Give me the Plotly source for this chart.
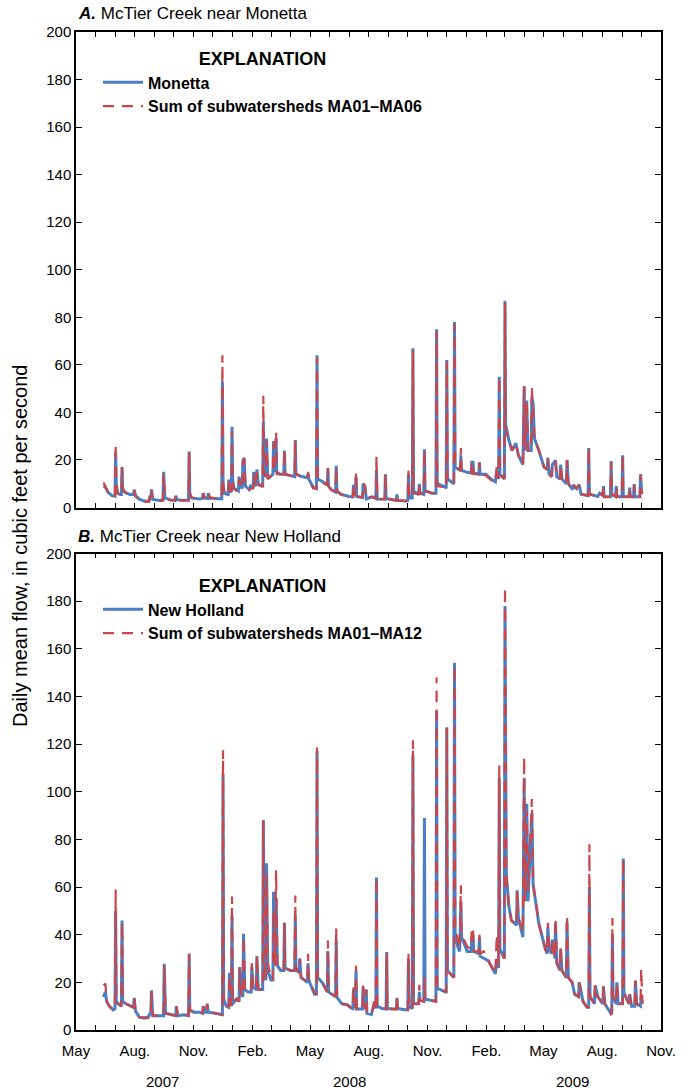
import plotly.graph_objects as go

# ---------------- data ----------------
# Panel A: McTier Creek near Monetta (daily mean flow, ft3/s) - one line per month
MON_DATES = [
    "2007-06-13", "2007-06-16", "2007-06-20", "2007-06-26",
    "2007-07-01", "2007-07-02", "2007-07-03", "2007-07-05", "2007-07-09", "2007-07-11", "2007-07-12", "2007-07-13", "2007-07-16", "2007-07-24", "2007-07-30", "2007-07-31",
    "2007-08-02", "2007-08-08", "2007-08-15", "2007-08-23", "2007-08-25", "2007-08-26", "2007-08-27", "2007-08-29",
    "2007-09-06", "2007-09-14", "2007-09-15", "2007-09-17", "2007-09-26",
    "2007-10-03", "2007-10-04", "2007-10-06", "2007-10-16", "2007-10-24", "2007-10-25", "2007-10-26", "2007-10-29",
    "2007-11-10", "2007-11-15", "2007-11-16", "2007-11-18", "2007-11-23", "2007-11-24", "2007-11-26",
    "2007-12-05", "2007-12-14", "2007-12-15", "2007-12-16", "2007-12-17", "2007-12-19", "2007-12-25", "2007-12-26", "2007-12-28", "2007-12-30", "2007-12-31",
    "2008-01-01", "2008-01-03", "2008-01-07", "2008-01-10", "2008-01-11", "2008-01-13", "2008-01-16", "2008-01-17", "2008-01-19", "2008-01-21", "2008-01-25", "2008-01-27", "2008-01-29",
    "2008-02-02", "2008-02-03", "2008-02-05", "2008-02-07", "2008-02-08", "2008-02-10", "2008-02-15", "2008-02-17", "2008-02-18", "2008-02-19", "2008-02-22", "2008-02-23", "2008-02-25",
    "2008-03-04", "2008-03-05", "2008-03-06", "2008-03-09", "2008-03-10", "2008-03-15", "2008-03-21", "2008-03-22", "2008-03-23", "2008-03-30",
    "2008-04-07", "2008-04-08", "2008-04-09", "2008-04-18", "2008-04-27", "2008-04-28", "2008-04-29",
    "2008-05-06", "2008-05-11", "2008-05-12", "2008-05-13", "2008-05-20", "2008-05-28", "2008-05-29", "2008-05-30",
    "2008-06-03", "2008-06-10", "2008-06-11", "2008-06-12", "2008-06-18",
    "2008-07-01", "2008-07-07", "2008-07-08", "2008-07-09", "2008-07-11", "2008-07-12", "2008-07-13", "2008-07-22", "2008-07-23", "2008-07-26", "2008-07-28",
    "2008-08-06", "2008-08-12", "2008-08-13", "2008-08-14", "2008-08-26", "2008-08-27", "2008-08-28",
    "2008-09-13", "2008-09-14", "2008-09-15", "2008-09-28",
    "2008-10-01", "2008-10-02", "2008-10-03", "2008-10-08", "2008-10-09", "2008-10-10", "2008-10-18", "2008-10-19", "2008-10-20", "2008-10-26", "2008-10-27", "2008-10-28",
    "2008-11-08", "2008-11-14", "2008-11-15", "2008-11-16", "2008-11-29", "2008-11-30",
    "2008-12-01", "2008-12-02", "2008-12-12", "2008-12-13", "2008-12-14", "2008-12-20", "2008-12-22", "2008-12-23", "2008-12-24",
    "2009-01-02", "2009-01-08", "2009-01-09", "2009-01-11", "2009-01-12", "2009-01-20", "2009-01-21", "2009-01-22", "2009-01-31",
    "2009-02-08", "2009-02-15", "2009-02-17", "2009-02-20", "2009-02-21", "2009-02-22",
    "2009-03-01", "2009-03-02", "2009-03-03", "2009-03-08", "2009-03-13", "2009-03-19", "2009-03-23", "2009-03-30",
    "2009-04-01", "2009-04-02", "2009-04-05", "2009-04-07", "2009-04-12", "2009-04-13", "2009-04-15", "2009-04-17", "2009-04-24",
    "2009-05-02", "2009-05-07", "2009-05-08", "2009-05-10", "2009-05-14", "2009-05-15", "2009-05-20", "2009-05-22", "2009-05-27", "2009-05-28", "2009-05-30",
    "2009-06-06", "2009-06-07", "2009-06-09", "2009-06-16", "2009-06-17", "2009-06-22", "2009-06-26", "2009-06-29",
    "2009-07-10", "2009-07-11", "2009-07-12", "2009-07-25", "2009-07-28",
    "2009-08-02", "2009-08-03", "2009-08-04", "2009-08-14", "2009-08-15", "2009-08-16", "2009-08-22", "2009-08-23", "2009-08-24",
    "2009-09-01", "2009-09-02", "2009-09-03", "2009-09-12", "2009-09-13", "2009-09-14", "2009-09-19", "2009-09-20", "2009-09-21", "2009-09-29", "2009-09-30",
    "2009-10-02",
]
MON_OBSERVED = [
    9, 8.5, 6.5, 5,
    4.8, 23, 10, 6, 5.5, 5.5, 17, 8, 6.5, 5.5, 5.5, 7.5,
    5, 3.5, 2.7, 2.6, 5, 3.5, 7.6, 3.5,
    3, 3, 15, 4, 3.2,
    3, 5, 3.3, 3, 3, 23.5, 6, 4,
    3.6, 3.8, 6, 4, 3.8, 6, 4,
    3.8, 3.5, 3.6, 53, 10, 6, 5.5, 11.8, 7, 6.5, 34,
    12, 8, 7.5, 7, 13, 9, 8, 19, 21, 9, 8, 7.5, 9,
    8, 15, 10, 9, 16, 10, 9, 9, 36, 14, 13, 29, 12,
    14, 28, 15, 29, 15, 14, 14, 24, 14, 13.5,
    13, 28.4, 14, 13, 12.5, 14, 12,
    8.5, 8, 64, 12, 11, 9.5, 16.5, 9,
    7.5, 6.5, 17.5, 7, 5.6,
    4.6, 4.5, 9.5, 6, 5, 13, 4.6, 4.2, 10, 9, 3.6,
    4.5, 3.8, 16, 3.6, 3.5, 14, 3.8,
    3, 5.5, 3, 2.7,
    3, 14, 4, 4, 67, 7, 5.5, 10, 6, 5.5, 24.5, 7,
    6, 6, 75, 10, 8.5, 8,
    62, 12, 10, 78, 17, 16, 15.5, 22, 15.6,
    14.8, 14.5, 19, 19, 14.5, 14, 19, 14, 14,
    12, 10.8, 15, 12, 55, 14,
    12, 87, 35, 28.4, 24, 27, 22, 18,
    51, 24, 45, 24, 24, 46, 44, 29, 24,
    17, 16, 20.7, 14, 13, 18, 19.8, 13, 12, 18, 12,
    10, 20, 10, 7.5, 9.5, 8, 9.5, 5.6,
    5, 25, 5.6, 4.6, 6,
    5, 9, 4.5, 4.5, 19.5, 5.5, 4.6, 9, 4.6,
    4.5, 22, 4.6, 4.5, 8.4, 4.6, 4.5, 9.8, 4.6, 4.5, 14,
    5.6,
]
MON_SUM = [
    10.5, 9, 6.5, 5,
    4.6, 27, 11, 6, 5.5, 5.5, 17, 8, 6.5, 5.3, 5.3, 7,
    5, 3.2, 2.5, 2.5, 5, 3.5, 7, 3.5,
    2.8, 3, 14, 4, 3,
    3, 5, 3, 3, 3, 23, 5.5, 4,
    4, 3.8, 6, 4, 3.8, 6, 4.3,
    3.8, 3.5, 3.6, 64, 11, 6, 5.5, 11, 7, 6.5, 32,
    11, 8, 7, 7, 12, 8.5, 8, 20, 20, 9, 7.5, 7.5, 8,
    8, 14, 10, 9, 15, 9.5, 9, 9, 47, 14, 13, 28, 12,
    14, 27, 15, 32, 14, 14, 14, 24.5, 14, 13.5,
    13, 28, 14, 13, 12.5, 15, 12,
    8, 8, 63, 12, 10.5, 9.5, 16.6, 9,
    7.5, 6.5, 17, 7, 5.5,
    4.5, 4.5, 10, 6, 5, 15, 4.6, 4.2, 10, 9, 3.6,
    4.5, 3.8, 21.7, 3.6, 3.5, 14, 3.8,
    3, 5.5, 3, 2.7,
    3, 15.5, 4, 4, 66, 6, 5.5, 10, 6, 5.5, 24, 7,
    6, 6, 74, 9, 8.5, 8,
    61, 12, 10, 77, 17, 16, 15.5, 25, 15.6,
    14.8, 14.5, 19, 18.5, 14, 14, 19, 14, 13.5,
    11.5, 10.5, 17.8, 12, 55, 14,
    12, 86, 33, 28, 24, 27, 22, 18,
    51, 24, 44, 24, 24, 50.5, 42, 29, 24,
    17, 16, 21, 14, 13, 18, 19.5, 13, 12, 18, 12,
    10, 20, 10, 7.5, 9.5, 8, 9.5, 5.6,
    5, 25, 5.6, 4.6, 6,
    5, 9, 4.5, 4.5, 19, 5.5, 4.6, 9, 4.6,
    4.5, 22, 4.6, 4.5, 8.4, 4.6, 4.5, 9.8, 4.6, 4.5, 13.7,
    5.6,
]

# Panel B: McTier Creek near New Holland - one line per month
NH_DATES = [
    "2007-06-13", "2007-06-16", "2007-06-18", "2007-06-22", "2007-06-28",
    "2007-07-01", "2007-07-02", "2007-07-03", "2007-07-06", "2007-07-11", "2007-07-12", "2007-07-13", "2007-07-18", "2007-07-25", "2007-07-30", "2007-07-31",
    "2007-08-02", "2007-08-08", "2007-08-16", "2007-08-22", "2007-08-25", "2007-08-26", "2007-08-27", "2007-08-29",
    "2007-09-07", "2007-09-15", "2007-09-16", "2007-09-18", "2007-09-28",
    "2007-10-04", "2007-10-05", "2007-10-07", "2007-10-17", "2007-10-24", "2007-10-25", "2007-10-26",
    "2007-11-01", "2007-11-10", "2007-11-15", "2007-11-16", "2007-11-18", "2007-11-21", "2007-11-22", "2007-11-24",
    "2007-12-05", "2007-12-14", "2007-12-16", "2007-12-17", "2007-12-18", "2007-12-22", "2007-12-26", "2007-12-27", "2007-12-29", "2007-12-30", "2007-12-31",
    "2008-01-01", "2008-01-07", "2008-01-11", "2008-01-12", "2008-01-14", "2008-01-17", "2008-01-18", "2008-01-20", "2008-01-25", "2008-01-30", "2008-01-31",
    "2008-02-02", "2008-02-07", "2008-02-08", "2008-02-10", "2008-02-15", "2008-02-17", "2008-02-18", "2008-02-20", "2008-02-22", "2008-02-23", "2008-02-25",
    "2008-03-01", "2008-03-04", "2008-03-05", "2008-03-07", "2008-03-09", "2008-03-11", "2008-03-16", "2008-03-21", "2008-03-22", "2008-03-23", "2008-03-31",
    "2008-04-07", "2008-04-08", "2008-04-09", "2008-04-14", "2008-04-15", "2008-04-17", "2008-04-27", "2008-04-28", "2008-04-29",
    "2008-05-08", "2008-05-11", "2008-05-12", "2008-05-13", "2008-05-20", "2008-05-28", "2008-05-29", "2008-05-30",
    "2008-06-10", "2008-06-11", "2008-06-12", "2008-06-20", "2008-06-28",
    "2008-07-05", "2008-07-07", "2008-07-08", "2008-07-09", "2008-07-11", "2008-07-12", "2008-07-13", "2008-07-22", "2008-07-23", "2008-07-24", "2008-07-27", "2008-07-28", "2008-07-29",
    "2008-08-05", "2008-08-10", "2008-08-12", "2008-08-13", "2008-08-14", "2008-08-22", "2008-08-28", "2008-08-29", "2008-08-30",
    "2008-09-08", "2008-09-13", "2008-09-14", "2008-09-15", "2008-09-26",
    "2008-10-01", "2008-10-02", "2008-10-03", "2008-10-08", "2008-10-09", "2008-10-10", "2008-10-18", "2008-10-19", "2008-10-20", "2008-10-26", "2008-10-27", "2008-10-28",
    "2008-11-08", "2008-11-14", "2008-11-15", "2008-11-16", "2008-11-29", "2008-11-30",
    "2008-12-01", "2008-12-02", "2008-12-12", "2008-12-13", "2008-12-14", "2008-12-18", "2008-12-21", "2008-12-23", "2008-12-24",
    "2009-01-02", "2009-01-08", "2009-01-09", "2009-01-11", "2009-01-12", "2009-01-20", "2009-01-21", "2009-01-22", "2009-01-28",
    "2009-02-04", "2009-02-10", "2009-02-15", "2009-02-17", "2009-02-20", "2009-02-21", "2009-02-22",
    "2009-03-01", "2009-03-02", "2009-03-04", "2009-03-08", "2009-03-12", "2009-03-20", "2009-03-21", "2009-03-23", "2009-03-30",
    "2009-04-01", "2009-04-02", "2009-04-05", "2009-04-07", "2009-04-13", "2009-04-15", "2009-04-19", "2009-04-24",
    "2009-05-04", "2009-05-07", "2009-05-08", "2009-05-10", "2009-05-14", "2009-05-15", "2009-05-19", "2009-05-20", "2009-05-22", "2009-05-27", "2009-05-28", "2009-05-30",
    "2009-06-06", "2009-06-07", "2009-06-09", "2009-06-15", "2009-06-19", "2009-06-25", "2009-06-26",
    "2009-07-02", "2009-07-08", "2009-07-11", "2009-07-12", "2009-07-13", "2009-07-20", "2009-07-21", "2009-07-25",
    "2009-08-02", "2009-08-03", "2009-08-05", "2009-08-15", "2009-08-16", "2009-08-17", "2009-08-18", "2009-08-23", "2009-08-24", "2009-08-26",
    "2009-09-02", "2009-09-03", "2009-09-04", "2009-09-12", "2009-09-13", "2009-09-16", "2009-09-21", "2009-09-22", "2009-09-24", "2009-09-30",
    "2009-10-01", "2009-10-03",
]
NH_OBSERVED = [
    13.8, 16, 12, 10, 8.5,
    9, 50, 12, 11, 10, 46, 12, 11, 10, 9.5, 13.5,
    8, 5.4, 5, 5.5, 7, 6.5, 16.6, 6,
    6, 6, 27.8, 7, 6.4,
    6, 10, 6, 6.4, 6, 32, 8.4,
    7.5, 7.5, 7, 10, 7.5, 7.5, 11, 7.5,
    7, 6.4, 6.4, 107.6, 13, 10, 9.5, 24, 12, 10, 48,
    11, 13, 12, 26.4, 15, 14, 40.4, 17, 16, 16, 26.4,
    18, 17, 31, 17, 17, 17, 88, 22, 21, 70, 25,
    21, 21, 58, 27, 55, 27, 25, 25, 45, 26, 25,
    25, 48, 26, 24, 30, 22, 20, 28, 21,
    15, 15, 117, 22, 20, 16, 33, 16,
    14, 38, 13.8, 11, 10.6,
    9.2, 9, 17, 10, 9.5, 25, 8.8, 8.8, 18, 10, 9, 17, 7,
    6.5, 12, 9, 64, 10, 9, 8.8, 32.7, 9,
    8.8, 8.8, 13.5, 9, 8.5,
    8.5, 30, 10, 9, 115.3, 11, 11, 16, 12.5, 12, 89, 13,
    12.4, 12, 134, 17.5, 16, 16,
    127, 25, 22, 154, 41, 35, 33, 54, 39,
    33, 33, 39, 40, 33, 32, 39, 31, 30,
    29, 26, 23.6, 30, 26, 106, 34,
    30, 178, 65.6, 52, 46, 44, 58.6, 47, 39,
    105.5, 54, 95, 54, 91, 61, 54, 44.6,
    34, 32, 43, 34, 32, 38, 30, 45, 28, 25, 34, 25,
    22, 45, 22, 20, 15, 14, 20,
    12, 9.6, 9.6, 60, 14, 11, 18.7, 14,
    11, 18.3, 11, 6.8, 7, 40, 14, 11, 20, 11,
    11, 72, 15.6, 11, 15, 10, 10, 20.7, 11, 10,
    14, 11,
]
NH_SUM = [
    18.7, 19.5, 12, 10, 8.5,
    9, 59, 13, 11, 10, 45, 12, 11, 10, 9.5, 13.5,
    8, 5.4, 5, 5, 7, 6.5, 16, 6,
    6, 6, 27, 7, 6.4,
    6, 10, 6, 6.4, 6, 32, 8.4,
    7.5, 7.5, 7, 10, 7.5, 7.5, 11, 7.5,
    7, 6.4, 6.4, 117.4, 13, 10, 9.5, 23, 11, 10, 56,
    11, 13, 12, 26, 15, 14, 39, 17, 16, 16, 28,
    18, 17, 31, 17, 17, 17, 88, 22, 21, 65, 28,
    22, 21, 50, 27, 67, 27, 26, 25, 45, 26, 25,
    25, 56.5, 26, 24, 30, 22, 20, 32, 21,
    16, 15, 118.6, 22, 20, 16, 37.6, 16,
    14, 43, 14, 11, 10.6,
    9.2, 9, 18.7, 10, 9.5, 27, 8.8, 8.8, 18.7, 10, 9, 17, 7,
    6.5, 12, 9, 64, 10, 9, 8.8, 32, 9,
    8.8, 8.8, 13.5, 9, 8.5,
    8.5, 32, 10, 9, 121.6, 11, 11, 19, 12.5, 12, 22, 13,
    12.4, 12, 148, 17.5, 16, 16,
    127, 25, 22, 153, 43, 37, 34, 60.7, 40,
    35, 34, 43, 43, 33, 33, 40, 32, 33,
    29, 26, 23.6, 40, 27, 111, 34,
    30, 186, 65, 52, 46, 44, 58, 47, 41,
    114.6, 54, 92, 58, 97, 61, 54, 44.6,
    34, 32, 45, 34, 32, 38, 30, 47, 28, 25, 35, 25,
    22, 48, 22, 20, 15, 14, 20,
    12, 9.6, 9.6, 78, 14, 11, 18.7, 14,
    11, 18.3, 11, 6.8, 7, 47, 14, 11, 20, 11,
    11, 72, 15.6, 11, 15, 10, 10, 20.7, 11, 10,
    25.7, 11,
]

assert len(MON_DATES) == len(MON_OBSERVED) == len(MON_SUM), (len(MON_DATES), len(MON_OBSERVED), len(MON_SUM))
assert len(NH_DATES) == len(NH_OBSERVED) == len(NH_SUM), (len(NH_DATES), len(NH_OBSERVED), len(NH_SUM))

# axis tick values / labels
MONTH_TICKS = [
    "2007-05-01", "2007-06-01", "2007-07-01", "2007-08-01", "2007-09-01", "2007-10-01", "2007-11-01",
    "2007-12-01", "2008-01-01", "2008-02-01", "2008-03-01", "2008-04-01", "2008-05-01", "2008-06-01",
    "2008-07-01", "2008-08-01", "2008-09-01", "2008-10-01", "2008-11-01", "2008-12-01", "2009-01-01",
    "2009-02-01", "2009-03-01", "2009-04-01", "2009-05-01", "2009-06-01", "2009-07-01", "2009-08-01",
    "2009-09-01", "2009-10-01", "2009-11-01",
]
MONTH_LABELS = [
    "May", "", "", "Aug.", "", "", "Nov.", "", "", "Feb.", "", "", "May", "", "", "Aug.", "", "",
    "Nov.", "", "", "Feb.", "", "", "May", "", "", "Aug.", "", "", "Nov.",
]
YEAR_LABELS = ["2007", "2008", "2009"]
YEAR_CENTERS = ["2007-09-14", "2008-07-01", "2009-06-16"]
Y_TICKS = [0, 20, 40, 60, 80, 100, 120, 140, 160, 180, 200]

# ---------------- styling ----------------
FONT = "Liberation Sans, Arial, sans-serif"
BLUE = "#4a7fc3"
RED = "#c9474b"
DASH = "11px,8px"
W, H = 698, 1092
ML, MR, MT, MB = 76, 37, 32, 62
PH = H - MT - MB


def py(px):
    """pixel row -> paper y"""
    return (H - MB - px) / PH


def pxx(px):
    return (px - ML) / (W - ML - MR)


fig = go.Figure()

fig.add_trace(go.Scatter(x=MON_DATES, y=MON_OBSERVED, mode="lines", name="<b>Monetta</b>",
                         line=dict(color=BLUE, width=3), xaxis="x2", yaxis="y2", legend="legend"))
fig.add_trace(go.Scatter(x=MON_DATES, y=MON_SUM, mode="lines",
                         name="<b>Sum of subwatersheds MA01\u2013MA06</b>",
                         line=dict(color=RED, width=2.2, dash=DASH), xaxis="x2", yaxis="y2",
                         legend="legend"))
fig.add_trace(go.Scatter(x=NH_DATES, y=NH_OBSERVED, mode="lines", name="<b>New Holland</b>",
                         line=dict(color=BLUE, width=3), xaxis="x", yaxis="y", legend="legend2"))
fig.add_trace(go.Scatter(x=NH_DATES, y=NH_SUM, mode="lines",
                         name="<b>Sum of subwatersheds MA01\u2013MA12</b>",
                         line=dict(color=RED, width=2.2, dash=DASH), xaxis="x", yaxis="y",
                         legend="legend2"))

xcommon = dict(range=["2007-05-01", "2009-11-01"], tickmode="array", tickvals=MONTH_TICKS,
               ticks="inside", ticklen=5, tickwidth=1.3, tickcolor="black", showline=True,
               linecolor="black", linewidth=1.5, mirror="ticks", showgrid=False, zeroline=False,
               tickfont=dict(family=FONT, size=15, color="black"))
ycommon = dict(range=[0, 200], tickmode="array", tickvals=Y_TICKS, ticktext=[str(v) for v in Y_TICKS],
               ticks="inside", ticklen=6, tickwidth=1.3, tickcolor="black", showline=True,
               linecolor="black", linewidth=1.5, mirror="ticks", showgrid=False, zeroline=False,
               tickfont=dict(family=FONT, size=15, color="black"))

legend_common = dict(xanchor="left", yanchor="top", bgcolor="rgba(0,0,0,0)", borderwidth=0,
                     itemwidth=40, font=dict(family=FONT, size=16, color="black"),
                     title=dict(text="<b>EXPLANATION</b>", side="top center",
                                font=dict(family=FONT, size=18, color="black")),
                     itemclick=False, itemdoubleclick=False)

annotations = [
    dict(text="<b><i>A.</i></b> McTier Creek near Monetta", xref="paper", yref="paper",
         x=0, y=py(13), xanchor="left", yanchor="middle", showarrow=False,
         font=dict(family=FONT, size=17, color="black")),
    dict(text="<b><i>B.</i></b> McTier Creek near New Holland", xref="paper", yref="paper",
         x=0, y=py(536), xanchor="left", yanchor="middle", showarrow=False,
         font=dict(family=FONT, size=17, color="black")),
    dict(text="Daily mean flow, in cubic feet per second", xref="paper", yref="paper",
         x=pxx(20), y=py(546), xanchor="center", yanchor="middle", textangle=-90, showarrow=False,
         font=dict(family=FONT, size=20, color="black")),
]
for lab, cx in zip(YEAR_LABELS, YEAR_CENTERS):
    annotations.append(dict(text=lab, xref="x", yref="paper", x=cx, y=py(1081), xanchor="center",
                            yanchor="middle", showarrow=False,
                            font=dict(family=FONT, size=15, color="black")))

fig.update_layout(
    width=W, height=H, margin=dict(l=ML, r=MR, t=MT, b=MB, autoexpand=False),
    paper_bgcolor="white", plot_bgcolor="white",
    xaxis=dict(**xcommon, anchor="y", ticktext=MONTH_LABELS, ticklabelstandoff=6),
    yaxis=dict(**ycommon, anchor="x", domain=[0, py(553.5)]),
    xaxis2=dict(**xcommon, anchor="y2", showticklabels=False, matches="x"),
    yaxis2=dict(**ycommon, anchor="x2", domain=[py(507.5), 1]),
    legend=dict(**legend_common, x=pxx(98), y=py(42)),
    legend2=dict(**legend_common, x=pxx(98), y=py(569)),
    annotations=annotations,
    showlegend=True,
)

fig.write_html("out.html")
